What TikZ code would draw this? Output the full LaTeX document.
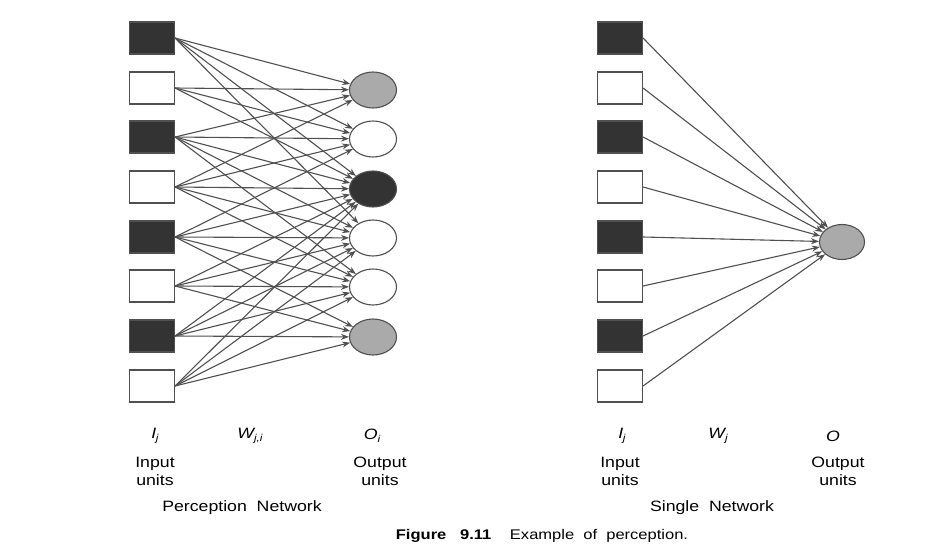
\documentclass[tikz,border=0pt]{standalone}
\usepackage{fontspec}
\setmainfont{Liberation Sans}[FakeStretch=1.18]
\usetikzlibrary{shapes.geometric,arrows.meta}
\definecolor{dk}{HTML}{333333}
\definecolor{gr}{HTML}{AAAAAA}
\definecolor{ln}{HTML}{505050}
\begin{document}
\begin{tikzpicture}[x=1pt,y=-1pt,
  insq/.style={draw=ln, line width=1.1pt, minimum width=45pt, minimum height=32pt, inner sep=0pt},
  outel/.style={ellipse, draw=ln, line width=1.1pt, minimum width=47pt, minimum height=36pt, inner sep=0pt},
  conn/.style={draw=ln, line width=1.1pt, -{Stealth[length=8pt,width=6pt,fill=dk]}},
  lab/.style={font=\fontsize{15}{18}\selectfont, align=center},
  var/.style={font=\fontsize{15}{18}\selectfont\itshape}]
\useasboundingbox (0,0) rectangle (933,549);
% ---------- left network ----------
\foreach \k/\y/\c in {1/38/dk,2/88/white,3/137/dk,4/187/white,5/237/dk,6/286/white,7/336/dk,8/386/white}
  \node[insq, fill=\c] (a\k) at (152,\y) {};
\foreach \j/\y/\c in {1/90/gr,2/139/white,3/189/dk,4/238/white,5/287/white,6/337/gr}
  \node[outel, fill=\c] (o\j) at (373,\y) {};
\foreach \k/\list in {1/{1,2,3,4},2/{1,2,3},3/{1,2,3,4,5},4/{1,2,3,4,5},5/{2,3,4,5,6},6/{3,4,5,6},7/{3,4,5,6},8/{3,4,5,6}}
  \foreach \j in \list
    \draw[conn] (a\k.east) -- (o\j);
% labels
\node[var] (l1) at (155,436) {I\kern-0.5pt\raisebox{-3pt}{\fontsize{10}{10}\selectfont j}};
\node[var] (l2) at (250,436) {W\raisebox{-3pt}{\fontsize{10}{10}\selectfont j,i}};
\node[var] (l3) at (372,436) {O\raisebox{-3pt}{\fontsize{10}{10}\selectfont i}};
\node[lab] (l4) at (155,471) {Input\\units};
\node[lab] (l5) at (380,471) {Output\\units};
\node[lab] (l6) at (242,508) {Perception\ \ Network};
% ---------- right network ----------
\foreach \k/\y/\c in {1/38/dk,2/88/white,3/137/dk,4/187/white,5/237/dk,6/286/white,7/336/dk,8/386/white}
  \node[insq, fill=\c] (b\k) at (620,\y) {};
\node[outel, fill=gr, minimum width=45pt, minimum height=35pt] (p) at (842,242) {};
\foreach \k in {1,...,8}
  \draw[conn] (b\k.east) -- (p);
\node[var] (r1) at (622,436) {I\kern-0.5pt\raisebox{-3pt}{\fontsize{10}{10}\selectfont j}};
\node[var] (r2) at (718,436) {W\raisebox{-3pt}{\fontsize{10}{10}\selectfont j}};
\node[var] (r3) at (833,436) {O};
\node[lab] (r4) at (620,471) {Input\\units};
\node[lab] (r5) at (838,471) {Output\\units};
\node[lab] (r6) at (712,508) {Single\ \ Network};
% caption
\node[font=\fontsize{14}{16}\selectfont] (cap) at (542,536) {\textbf{Figure\ \ \ 9.11}\quad\ Example\ \ of\ \ perception.};
\end{tikzpicture}
\end{document}
